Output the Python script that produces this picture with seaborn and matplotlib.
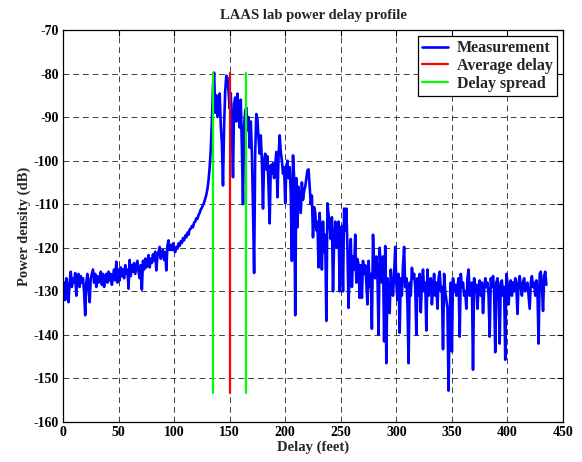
import numpy as np
import pandas as pd
import matplotlib
matplotlib.use("Agg")
import matplotlib.pyplot as plt
import seaborn as sns

power_000_049 = [-130, -128, -132, -127, -129, -132.5, -128, -125.5, -129, -127,
                 -128, -125.8, -131, -127, -126, -129, -126.5, -128, -127, -130,
                 -135.5, -128, -126, -129, -132.5, -127, -126, -125, -128, -126,
                 -129, -126.5, -128, -127, -125.5, -128.5, -126, -129, -127, -126,
                 -128, -125.5, -127.5, -126, -128.5, -126.5, -125, -127.5, -123.2, -128]
power_050_099 = [-125, -127.5, -124.5, -126.5, -125, -127, -124, -126, -125, -129.4,
                 -122.8, -126.5, -124, -125.5, -123.5, -126, -124.5, -123, -125.5, -127,
                 -124, -129.6, -123, -125, -122.5, -124.5, -123, -121.7, -124.5, -122.5,
                 -123.5, -121.5, -123, -120.9, -125.2, -122, -121, -119.8, -122.5, -121,
                 -120.5, -122.8, -121, -125.2, -119.5, -118.3, -120.5, -119.5, -120.5, -119]
power_100_149 = [-120.5, -121, -119.8, -120.2, -119, -119.6, -118.5, -118.9, -117.8, -118.3,
                 -117.2, -117.6, -116.5, -117, -115.8, -115.6, -115, -115.3, -114.2, -114,
                 -113.2, -113.4, -112.5, -112, -111.2, -110.8, -110.2, -109.6, -108.8, -107.8,
                 -106.5, -104.5, -101.5, -97.5, -91, -83, -79.8, -89, -85, -90,
                 -86, -84.6, -92, -96, -105.7, -92, -84, -80.5, -81, -84]
power_150_199 = [-88, -84.5, -92, -103.8, -87, -85.5, -91, -84.6, -89, -92.4,
                 -86, -97, -110, -92, -88.5, -87.8, -93, -90, -97, -91,
                 -98, -111, -125.8, -98, -89.3, -90.5, -95, -98.4, -94.2, -100,
                 -111, -100, -98.4, -102, -99, -106, -114.4, -101, -103, -100.6,
                 -104, -101, -98, -108.4, -99, -94.2, -98, -100, -103, -101.5]
power_200_249 = [-109.8, -102, -100, -104, -101.5, -107.6, -123, -98.8, -104, -135.5,
                 -104, -115.3, -106, -109, -112, -105, -109, -107, -106, -104,
                 -102.2, -102, -106, -110, -108, -117.6, -110.7, -112, -116, -114,
                 -124.5, -112, -118, -125, -114, -121, -117, -136.8, -109.8, -112.4,
                 -115, -118, -113, -130, -118.6, -114, -120, -116, -114, -130]
power_250_299 = [-117, -115, -130, -111, -116, -111, -120, -133.8, -123, -118,
                 -129, -122, -125, -117, -128, -122.6, -124, -131.5, -124, -131.5,
                 -123, -126, -124, -128, -133, -123, -129, -126, -138.6, -117,
                 -124, -127, -122, -126, -140, -120, -125, -128, -122, -141.5,
                 -119.6, -146.5, -127, -130, -135, -125, -129, -131, -126, -119.8]
power_300_349 = [-128, -132, -126, -139.5, -127, -131, -124, -119.8, -129, -127,
                 -133, -146.5, -128, -131, -124.6, -127, -126, -129, -140, -127,
                 -131, -126, -134.8, -128, -125, -130, -128, -139, -125, -131,
                 -128, -127, -133, -129, -126, -131, -128, -134, -127, -125.5,
                 -130, -129, -143.3, -126, -130, -132, -134, -152.8, -135, -128]
power_350_399 = [-143.8, -127, -130, -128.5, -131, -129, -127, -140.4, -126, -129,
                 -128, -131, -130, -134, -127, -125, -131, -129, -128, -148,
                 -127, -130, -128.5, -134, -129, -127.5, -131, -128, -135, -130,
                 -127, -129, -128, -131, -140.4, -127, -129, -126.5, -130, -144,
                 -128, -127, -130, -142, -128, -127.5, -131, -129, -145.7, -126]
power_400_435 = [-128, -133, -129, -127.5, -131, -128, -130, -127, -129, -135.2,
                 -128, -126.5, -129, -131, -128, -127, -130, -129, -128, -131,
                 -134, -128, -126.5, -129, -128, -131, -127.5, -130, -142, -126,
                 -125.5, -129, -134.5, -126.5, -125.5, -128.5]

power_db = (power_000_049 + power_050_099 + power_100_149 + power_150_199 +
            power_200_249 + power_250_299 + power_300_349 + power_350_399 +
            power_400_435)
delay_ft = list(range(len(power_db)))

# Delay statistics (feet) and vertical extent of the marker lines (dB)
average_delay = [150.5]
delay_spread = [135.3, 164.8]
marker_top = -79.8
marker_bottom = -153.4

x_ticks = [0, 50, 100, 150, 200, 250, 300, 350, 400, 450]
y_ticks = [-160, -150, -140, -130, -120, -110, -100, -90, -80, -70]

sns.set_style("white")
plt.rcParams["font.family"] = ["Liberation Serif", "DejaVu Serif"]
plt.rcParams["font.weight"] = "bold"

fig = plt.figure(figsize=(5.82, 4.62), dpi=100)
ax = fig.add_axes([0.1082, 0.0866, 0.9674 - 0.1082, 0.9351 - 0.0866])

meas = pd.DataFrame({"delay": delay_ft, "power": power_db})
sns.lineplot(data=meas, x="delay", y="power", ax=ax, color=(0, 0, 1),
             linewidth=1.9, label="Measurement", estimator=None)

avg_df = pd.DataFrame({"delay": average_delay * 2,
                       "power": [marker_bottom, marker_top]})
sns.lineplot(data=avg_df, x="delay", y="power", ax=ax, color=(1, 0, 0),
             linewidth=1.6, label="Average delay", estimator=None, sort=False)

for i, d in enumerate(delay_spread):
    sp_df = pd.DataFrame({"delay": [d, d], "power": [marker_bottom, marker_top]})
    sns.lineplot(data=sp_df, x="delay", y="power", ax=ax, color=(0, 1, 0),
                 linewidth=1.6, label="Delay spread" if i == 0 else None,
                 estimator=None, sort=False)

ax.set_xlim(0, 450)
ax.set_ylim(-160, -70)
ax.set_xticks(x_ticks)
ax.set_yticks(y_ticks)
ax.set_xticklabels([str(v) for v in x_ticks], fontsize=10, fontweight="bold")
ax.set_yticklabels([str(v) for v in y_ticks], fontsize=10, fontweight="bold")
ax.tick_params(direction="in", top=True, right=True, length=4, width=0.8,
               colors="black", pad=3)
ax.grid(True, color="black", linestyle=(0, (6, 4)), linewidth=0.7, alpha=0.75)
for s in ax.spines.values():
    s.set_color("black")
    s.set_linewidth(0.9)

ax.set_xlabel("Delay (feet)", fontsize=10.5, fontweight="bold", labelpad=1)
ax.set_ylabel("Power density (dB)", fontsize=10.5, fontweight="bold", labelpad=2)
ax.set_title("LAAS lab power delay profile", fontsize=10.5, fontweight="bold", pad=8)

leg = ax.legend(loc="upper right", fontsize=11.5, frameon=True, fancybox=False,
                borderpad=0.3, labelspacing=0.1, handlelength=1.6,
                handletextpad=0.55, borderaxespad=0.35)
leg.get_frame().set_edgecolor("black")
leg.get_frame().set_linewidth(0.9)
leg.get_frame().set_alpha(1)
for t in leg.get_texts():
    t.set_fontweight("bold")

fig.savefig("out.png", dpi=100)
